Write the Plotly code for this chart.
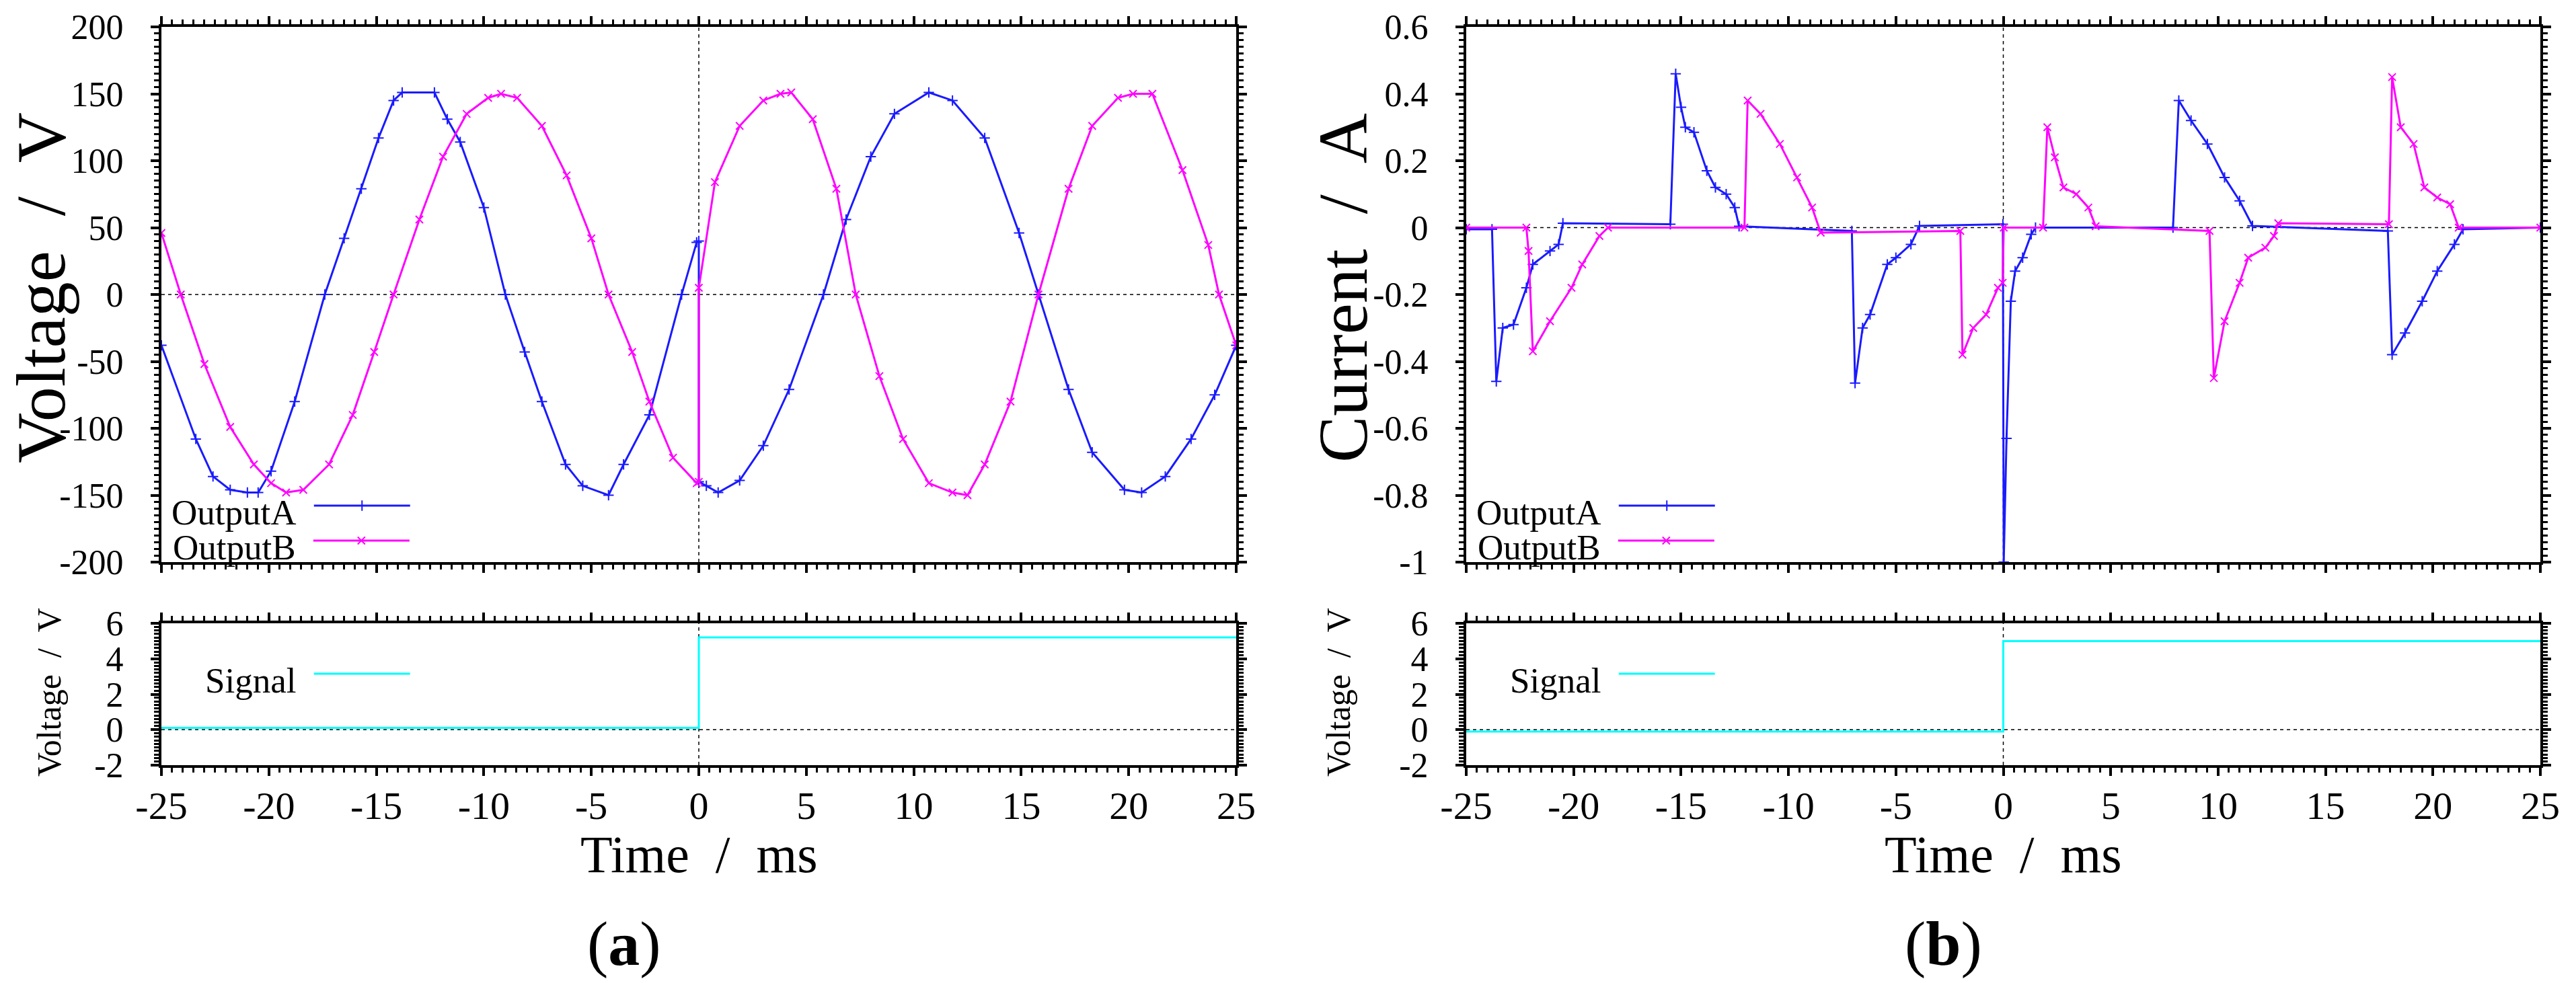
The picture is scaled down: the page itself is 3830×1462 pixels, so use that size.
import plotly.graph_objects as go

W, H = 3830, 1462

# time axis values (ms) and readings for the left panel (voltage)
volt_a_t = [-25, -23.4, -22.6, -21.8, -21.0, -20.5, -19.9, -18.8, -17.4, -16.5, -15.7, -14.9, -14.2,
            -13.8, -12.3, -11.7, -11.1, -10.0, -9.0, -8.1, -7.3, -6.2, -5.4, -4.2, -3.5, -2.3, -0.8,
            -0.1, 0, 0, 0.35, 0.9, 1.9, 3.0, 4.2, 5.8, 6.85, 8.0, 9.1, 10.7, 11.8, 13.3, 14.9, 15.8,
            17.2, 18.3, 19.8, 20.6, 21.7, 22.9, 24.0, 25]
volt_a_v = [-38, -108, -136, -146, -148, -148, -132, -80, 0, 42, 79, 117, 145,
            151, 151, 131, 114, 65, 0, -43, -80, -127, -143, -150, -127, -90, 0,
            39, 40, -140, -143, -148, -139, -113, -71, 0, 56, 103, 135, 151, 145, 117, 46, 0,
            -71, -118, -146, -148, -136, -108, -75, -38]

volt_b_t = [-25, -24.1, -23.0, -21.8, -20.7, -19.9, -19.2, -18.4, -17.2, -16.1, -15.1, -14.2, -13.0,
            -11.9, -10.8, -9.8, -9.2, -8.45, -7.3, -6.15, -5.0, -4.2, -3.1, -2.3, -1.2, -0.1, 0, 0,
            0.75, 1.9, 3.0, 3.8, 4.3, 5.3, 6.4, 7.3, 8.4, 9.5, 10.7, 11.8, 12.5, 13.3, 14.5, 15.8,
            17.2, 18.3, 19.5, 20.2, 21.1, 22.5, 23.7, 24.2, 25]
volt_b_v = [46, 0, -52, -99, -127, -141, -148, -146, -127, -90, -43, 0, 56,
            103, 135, 147, 150, 147, 126, 89, 42, 0, -43, -80, -122, -141, -140, 5,
            84, 126, 145, 150, 151, 131, 79, 0, -61, -108, -141, -148, -150, -127, -80, 0,
            79, 126, 147, 150, 150, 93, 37, 0, -38]

# right panel (current)
curr_a_t = [-25, -23.8, -23.6, -23.3, -22.8, -22.2, -21.9, -21.1, -20.7, -20.5, -15.5, -15.25, -15.0,
            -14.8, -14.4, -13.8, -13.4, -12.9, -12.5, -12.3, -7.05, -6.9, -6.55, -6.2, -5.4, -5.0,
            -4.3, -3.9, -0.02, 0.02, 0.15, 0.35, 0.55, 0.9, 1.3, 1.5, 7.9, 8.17, 8.74, 9.5, 10.3,
            11.0, 11.6, 17.9, 18.1, 18.7, 19.5, 20.2, 21.0, 21.4, 25]
curr_a_v = [-0.005, -0.005, -0.46, -0.30, -0.29, -0.18, -0.11, -0.07, -0.05, 0.013, 0.01, 0.46, 0.36,
            0.30, 0.285, 0.17, 0.12, 0.10, 0.06, 0.004, -0.01, -0.465, -0.30, -0.26, -0.11, -0.09,
            -0.05, 0.005, 0.01, -1.0, -0.63, -0.22, -0.13, -0.09, -0.02, 0.0, 0.0, 0.38, 0.32, 0.25, 0.15,
            0.08, 0.005, -0.01, -0.38, -0.315, -0.22, -0.13, -0.05, -0.005, 0.0]

curr_b_t = [-25, -22.2, -22.1, -21.9, -21.1, -20.1, -19.6, -18.8, -18.4, -12.05, -11.9, -11.3, -10.4,
            -9.6, -8.9, -8.5, -2.0, -1.9, -1.4, -0.8, -0.25, -0.03, 0.02, 1.85, 2.05, 2.4, 2.8, 3.4,
            3.96, 4.3, 9.6, 9.8, 10.3, 11.0, 11.4, 12.2, 12.6, 12.8, 17.95, 18.1, 18.5, 19.1, 19.6,
            20.2, 20.8, 21.2, 25]
curr_b_v = [0.0, 0.0, -0.07, -0.37, -0.28, -0.18, -0.11, -0.025, 0.0, 0.0, 0.38, 0.34, 0.25,
            0.15, 0.06, -0.015, -0.01, -0.38, -0.30, -0.26, -0.18, -0.165, 0.0, 0.0, 0.30, 0.21, 0.12, 0.10,
            0.06, 0.004, -0.01, -0.45, -0.28, -0.165, -0.09, -0.06, -0.025, 0.013, 0.01, 0.45, 0.30, 0.25, 0.12,
            0.09, 0.07, 0.0, 0.0]

# trigger signal (bottom panels)
sig_left_t = [-25, 0, 0, 25]
sig_left_v = [0.1, 0.1, 5.2, 5.2]
sig_right_t = [-25, 0, 0, 25]
sig_right_v = [-0.1, -0.1, 5.0, 5.0]

time_ticks = [-25, -20, -15, -10, -5, 0, 5, 10, 15, 20, 25]
time_labels = ['-25', '-20', '-15', '-10', '-5', '0', '5', '10', '15', '20', '25']
volt_ticks = [-200, -150, -100, -50, 0, 50, 100, 150, 200]
volt_labels = ['-200', '-150', '-100', '-50', '0', '50', '100', '150', '200']
curr_ticks = [-1, -0.8, -0.6, -0.4, -0.2, 0, 0.2, 0.4, 0.6]
curr_labels = ['-1', '-0.8', '-0.6', '-0.4', '-0.2', '0', '0.2', '0.4', '0.6']
sig_ticks = [-2, 0, 2, 4, 6]
sig_labels = ['-2', '0', '2', '4', '6']

BLUE = '#1a1aff'
MAGENTA = '#ff00ff'
CYAN = '#00ffff'
FONT = 'Liberation Serif'

fig = go.Figure()

def add_line(t, v, color, symbol, xa, ya, legend, markers=True):
    fig.add_trace(go.Scatter(
        x=t, y=v, xaxis=xa, yaxis=ya, name=' ', legend=legend, showlegend=True,
        mode='lines+markers' if markers else 'lines',
        line=dict(color=color, width=3),
        marker=dict(symbol=symbol, size=11, color=color, line=dict(color=color, width=2)),
    ))

add_line(volt_a_t, volt_a_v, BLUE, 'cross-thin', 'x', 'y', 'legend')
add_line(volt_b_t, volt_b_v, MAGENTA, 'x-thin', 'x', 'y', 'legend2')
add_line(curr_a_t, curr_a_v, BLUE, 'cross-thin', 'x2', 'y2', 'legend3')
add_line(curr_b_t, curr_b_v, MAGENTA, 'x-thin', 'x2', 'y2', 'legend4')
add_line(sig_left_t, sig_left_v, CYAN, 'circle', 'x3', 'y3', 'legend5', markers=False)
add_line(sig_right_t, sig_right_v, CYAN, 'circle', 'x4', 'y4', 'legend6', markers=False)

def ax_style(rng, ticks, labels, minor, size, show_labels=True, domain=None):
    d = dict(
        range=rng, tickmode='array', tickvals=ticks, ticktext=labels,
        showticklabels=show_labels, ticks='outside', ticklen=12, tickwidth=4,
        tickcolor='black', showline=True, linewidth=4, linecolor='black',
        mirror='ticks', showgrid=False, zeroline=False, automargin=False,
        tickfont=dict(family=FONT, size=size, color='black'),
        minor=dict(ticks='outside', ticklen=7, tickwidth=3, tickcolor='black',
                   tickmode='linear', tick0=0, dtick=minor, showgrid=False),
    )
    if domain is not None:
        d['domain'] = domain
    return d

xl = [240 / W, 1838 / W]
xr = [2180 / W, 3777 / W]
ytop = [1 - 836 / H, 1 - 40 / H]
ybot = [1 - 1138 / H, 1 - 927 / H]

layout = dict(
    width=W, height=H, autosize=False, margin=dict(l=0, r=0, t=0, b=0, pad=0),
    paper_bgcolor='white', plot_bgcolor='white', showlegend=True,
    xaxis=ax_style([-25, 25], time_ticks, time_labels, 0.5, 58, False, xl),
    yaxis=ax_style([-200, 200], volt_ticks, volt_labels, 5, 52, True, ytop),
    xaxis2=ax_style([-25, 25], time_ticks, time_labels, 0.5, 58, False, xr),
    yaxis2=ax_style([-1, 0.6], curr_ticks, curr_labels, 0.02, 52, True, ytop),
    xaxis3=ax_style([-25, 25], time_ticks, time_labels, 0.5, 58, True, xl),
    yaxis3=ax_style([-2, 6], sig_ticks, sig_labels, 0.2, 52, True, ybot),
    xaxis4=ax_style([-25, 25], time_ticks, time_labels, 0.5, 58, True, xr),
    yaxis4=ax_style([-2, 6], sig_ticks, sig_labels, 0.2, 52, True, ybot),
)
for k in ['yaxis', 'yaxis2', 'yaxis3', 'yaxis4']:
    layout[k]['anchor'] = 'x' + ('' if k == 'yaxis' else k[-1])
    layout[k]['ticklabelstandoff'] = 30
for k in ['xaxis', 'xaxis2', 'xaxis3', 'xaxis4']:
    layout[k]['anchor'] = 'y' + ('' if k == 'xaxis' else k[-1])
    layout[k]['ticklabelstandoff'] = -6
layout['xaxis3']['matches'] = 'x'
layout['xaxis4']['matches'] = 'x2'

# legends: text on the left, sample line on the right (gnuplot style)
legend_names = ['OutputA', 'OutputB', 'OutputA', 'OutputB', 'Signal', 'Signal']
legend_pos = [(603, 752), (603, 804), (2543, 752), (2543, 804), (603, 1002), (2543, 1002)]
for i, (name, (px, py)) in enumerate(zip(legend_names, legend_pos)):
    key = 'legend' if i == 0 else 'legend%d' % (i + 1)
    layout[key] = dict(
        title=dict(text=name + '\u00a0', side='left', font=dict(family=FONT, size=53, color='black')),
        x=(px + 30) / W, y=1 - py / H, xanchor='right', yanchor='middle',
        bgcolor='rgba(0,0,0,0)', borderwidth=0, itemwidth=143, visible=True,
        font=dict(family=FONT, size=53, color='black'), itemclick=False,
    )

fig.update_layout(**layout)

# dotted zero lines
for xa, ya in [('x', 'y'), ('x2', 'y2'), ('x3', 'y3'), ('x4', 'y4')]:
    fig.add_shape(type='line', xref=xa + ' domain', yref=ya, x0=0, x1=1, y0=0, y1=0,
                  line=dict(color='black', width=1.5, dash='5px,5px'), layer='below')
    fig.add_shape(type='line', xref=xa, yref=ya + ' domain', x0=0, x1=0, y0=0, y1=1,
                  line=dict(color='black', width=1.5, dash='5px,5px'), layer='below')

def note(text, x, y, size, angle=0):
    fig.add_annotation(text=text, x=x / W, y=1 - y / H, xref='paper', yref='paper',
                       showarrow=False, textangle=angle, xanchor='center', yanchor='middle',
                       font=dict(family=FONT, size=size, color='black'))

note('Voltage  /  V', 60, 428, 104, -90)
note('Current  /  A', 1996, 428, 104, -90)
note('Voltage  /  V', 73, 1030, 50, -90)
note('Voltage  /  V', 1990, 1030, 50, -90)
note('Time  /  ms', 1039, 1270, 78)
note('Time  /  ms', 2978, 1270, 78)
note('(<b>a</b>)', 928, 1403, 94)
note('(<b>b</b>)', 2889, 1403, 94)

# the page body has a default 8px margin; drop it so the figure fills the window exactly
fig.write_html('out.html', config={'displayModeBar': False},
               post_script="document.body.style.margin='0';")
